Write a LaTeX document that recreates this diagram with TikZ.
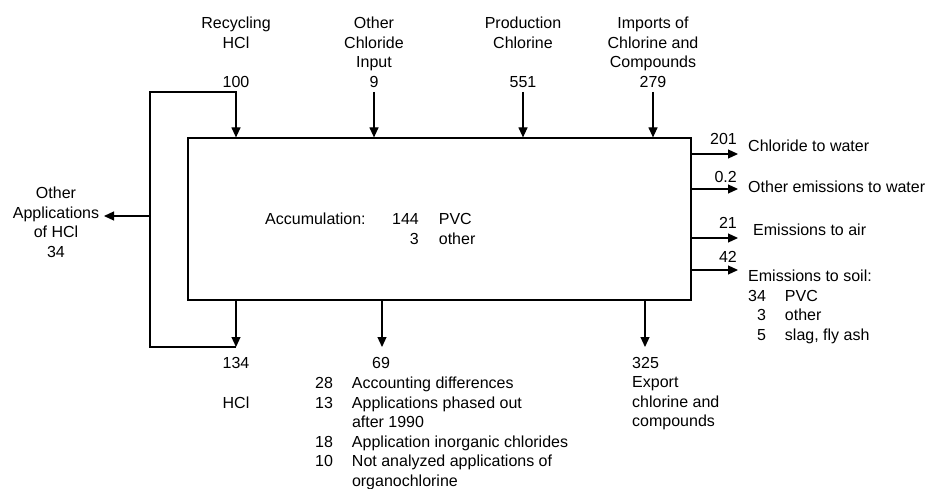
\documentclass[tikz,border=0pt]{standalone}
\usepackage{fontspec}
\setmainfont{Liberation Sans}
\usepackage{tikz}
\usetikzlibrary{arrows.meta, positioning}

\begin{document}
\begin{tikzpicture}[
    x=1pt, y=-1pt,
    every node/.style={font=\fontsize{16}{19.5}\selectfont, inner sep=0pt},
    balance/.style={rectangle, draw=black, line width=1.2pt, minimum width=503pt, minimum height=162pt},
    src/.style    ={align=center, anchor=north},
    num/.style    ={anchor=center},
    sink/.style   ={align=left, anchor=west},
    flow/.style   ={-{Triangle[length=10pt, width=9pt]}, line width=1.2pt},
    pipe/.style   ={line width=1.2pt}
]
\useasboundingbox (0,0) rectangle (931,489);
% --- balance box ---
\node[balance] (bal) at (439.5,219) {};
\node[anchor=west] (acc) at (265,230.5) {\begin{tabular}{@{}l@{\hspace{26.5pt}}r@{\hspace{20pt}}l@{}}
  Accumulation: & 144 & PVC\\
                & 3   & other
\end{tabular}};

% --- inputs from the top ---
\node[src] (rec)  at (236,17) {Recycling\\HCl};
\node[src] (oth)  at (374,17) {Other\\Chloride\\Input};
\node[src] (prod) at (523,17) {Production\\Chlorine};
\node[src] (imp)  at (653,17) {Imports of\\Chlorine and\\Compounds};
\node[num] (n100) at (236,82) {100};
\node[num] (n9)   at (374,82) {9};
\node[num] (n551) at (523,82) {551};
\node[num] (n279) at (653,82) {279};
\foreach \n in {n9,n551,n279}
  \draw[flow] ([yshift=-4pt]\n.south) -- (\n |- bal.north);

% --- HCl recycling loop ---
\node[num] (n134) at (236,363) {134};
\node[num] (hcl)  at (236,403) {HCl};
\coordinate (lt) at (150,92);
\coordinate (lb) at (150,347);
\coordinate (lm) at (150,216);
\draw[flow] (bal.south -| n134) -- (lb -| n134);
\draw[flow] (lb -| n134) -- (lb) -- (lt) -- (lt -| n100) -- (n100 |- bal.north);
% other applications of HCl
\node[src] (oapp) at (56,187) {Other\\Applications\\of HCl\\34};
\coordinate (oatip) at (104,216);
\draw[flow] (lm) -- (oatip);

% --- outputs at the bottom ---
\coordinate (o69) at (382,347);
\draw[flow] (bal.south -| o69) -- (o69);
\node[num] (n69) at (381,363) {69};
\node[anchor=north west] (rest) at (315,375) {\begin{tabular}{@{}r@{\hspace{19pt}}l@{}}
  28 & Accounting differences\\
  13 & Applications phased out\\
     & after 1990\\
  18 & Application inorganic chlorides\\
  10 & Not analyzed applications of\\
     & organochlorine
\end{tabular}};
\coordinate (o325) at (645,347);
\draw[flow] (bal.south -| o325) -- (o325);
\node[align=left, anchor=north west] (exp) at (632,357) {325\\Export\\chlorine and\\compounds};

% --- emissions on the right ---
\coordinate (t1) at (738,154);
\coordinate (t2) at (738,189);
\coordinate (t3) at (738,238);
\coordinate (t4) at (738,270);
\foreach \t in {t1,t2,t3,t4}
  \draw[flow] (bal.east |- \t) -- (\t);
\node[num, anchor=east] (n201) at (737,139) {201};
\node[num, anchor=east] (n02)  at (737,177) {0.2};
\node[num, anchor=east] (n21)  at (737,223) {21};
\node[num, anchor=east] (n42)  at (737,257) {42};
\node[sink] (cw) at (748,146) {Chloride to water};
\node[sink] (ow) at (748,187) {Other emissions to water};
\node[sink] (ea) at (753,230) {Emissions to air};
\node[anchor=north west] (es) at (748,268) {\begin{tabular}{@{}r@{\hspace{19pt}}l@{}}
  \multicolumn{2}{@{}l@{}}{Emissions to soil:}\\
  34 & PVC\\
  3  & other\\
  5  & slag, fly ash
\end{tabular}};
\end{tikzpicture}
\end{document}
